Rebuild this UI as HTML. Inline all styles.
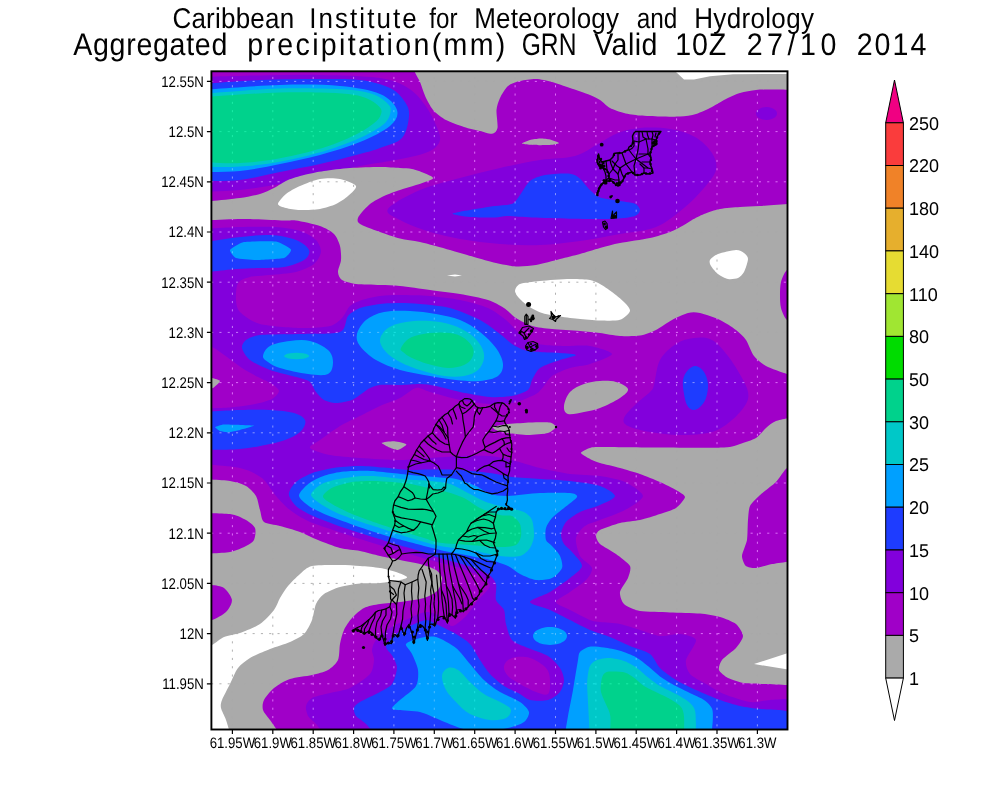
<!DOCTYPE html>
<html><head><meta charset="utf-8"><title>Aggregated precipitation GRN</title>
<style>html,body{margin:0;padding:0;background:#fff}body{width:1000px;height:800px;overflow:hidden}svg{display:block}text{font-family:"Liberation Sans",sans-serif;fill:#000;text-rendering:geometricPrecision}.t1{font-size:26px}.t2{font-size:28.6px}.ax{font-size:13.2px}.lg{font-size:18px}</style></head><body>
<svg width="1000" height="800" viewBox="0 0 1000 800">
<rect width="1000" height="800" fill="#fff"/>
<defs><clipPath id="mc"><rect x="211.4" y="71.3" width="576.1" height="658.2"/></clipPath></defs>
<g clip-path="url(#mc)">
<rect x="205" y="65" width="590" height="670" fill="rgb(160,0,200)"/>
<path d="M200 77C210 76.8 240 75.8 260 75.5C280 75.2 300 74.6 320 75C340 75.4 365.3 75.8 380 78C394.7 80.2 400.5 83.5 408 88C415.5 92.5 420.3 98.8 425 105C429.7 111.2 433.5 119.2 436 125C438.5 130.8 440.7 135.8 440 140C439.3 144.2 436.2 147.3 432 150C427.8 152.7 422 154.2 415 156C408 157.8 399.2 159.3 390 161C380.8 162.7 371.7 163.5 360 166C348.3 168.5 333.3 173 320 176C306.7 179 293.3 181.7 280 184C266.7 186.3 253.3 188.7 240 190C226.7 191.3 206.7 191.7 200 192L200 77Z" fill="rgb(130,0,220)"/>
<path d="M388 209C391.3 204 408 195.2 420 190C432 184.8 446.7 181.7 460 178C473.3 174.3 486.7 171 500 168C513.3 165 527.5 162 540 160C552.5 158 565.3 158.7 575 156C584.7 153.3 590.8 147.8 598 144C605.2 140.2 611 135.7 618 133C625 130.3 631.3 128.7 640 128C648.7 127.3 660.8 127.5 670 129C679.2 130.5 688 133 695 137C702 141 708.5 147.5 712 153C715.5 158.5 717.3 164.2 716 170C714.7 175.8 709.3 181.7 704 188C698.7 194.3 692 201.5 684 208C676 214.5 666.7 222.7 656 227C645.3 231.3 632.7 231.7 620 234C607.3 236.3 593.3 239.2 580 241C566.7 242.8 553.3 244.5 540 245C526.7 245.5 513.3 245 500 244C486.7 243 472.7 241.3 460 239C447.3 236.7 434 233.2 424 230C414 226.8 406 223.5 400 220C394 216.5 384.7 214 388 209Z" fill="rgb(130,0,220)"/>
<path d="M777 113.5C777 114.6 776.5 115.8 775.6 116.8C774.7 117.7 773.3 118.6 771.8 119.1C770.2 119.7 768.2 120 766.5 120C764.8 120 762.8 119.7 761.2 119.1C759.7 118.6 758.3 117.7 757.4 116.8C756.5 115.8 756 114.6 756 113.5C756 112.4 756.5 111.2 757.4 110.2C758.3 109.3 759.7 108.4 761.2 107.9C762.8 107.3 764.8 107 766.5 107C768.2 107 770.2 107.3 771.8 107.9C773.3 108.4 774.7 109.3 775.6 110.2C776.5 111.2 777 112.4 777 113.5Z" fill="rgb(130,0,220)"/>
<path d="M200 229C205.3 228.7 230 227.3 240 227C250 226.7 267 226.5 275 227C283 227.5 294.5 229.3 300 231C305.5 232.7 313.2 237.2 316 240C318.8 242.8 321.3 248.8 321 252C320.7 255.2 317.3 261.3 314 264C310.7 266.7 301.9 270.5 296 272C290.1 273.5 276.1 274.3 270 275C263.9 275.7 254.3 275.9 250 277C245.7 278.1 239.9 279.9 238 283C236.1 286.1 235.7 296.1 236 300C236.3 303.9 236.8 308.8 240 312C243.2 315.2 252 321.9 260 324C268 326.1 290.7 327.7 300 328C309.3 328.3 324.4 327.3 330 326C335.6 324.7 339.3 320.7 342 318C344.7 315.3 347.3 308.4 350 306C352.7 303.6 358 301.3 362 300C366 298.7 374.9 296.7 380 296C385.1 295.3 393.3 295 400 295C406.7 295 422 295.3 430 296C438 296.7 452.3 298.4 460 300C467.7 301.6 481.9 305.3 488 308C494.1 310.7 501.7 316.5 506 320C510.3 323.5 516.8 331.1 520 334C523.2 336.9 526.7 340.5 530 342C533.3 343.5 540.3 344.5 545 345C549.7 345.5 559 345.9 565 346C571 346.1 583.7 344.9 590 346C596.3 347.1 612 351.6 612 354C612 356.4 595.6 362.1 590 364C584.4 365.9 575.1 366.4 570 368C564.9 369.6 555.5 373.6 552 376C548.5 378.4 546.1 383.6 544 386C541.9 388.4 539.7 391.9 536 394C532.3 396.1 522.1 400.7 516 402C509.9 403.3 497.5 404.3 490 404C482.5 403.7 468 401.6 460 400C452 398.4 435.9 393.6 430 392C424.1 390.4 420 387.2 416 388C412 388.8 404.8 395.6 400 398C395.2 400.4 385.3 403.6 380 406C374.7 408.4 365.3 413.3 360 416C354.7 418.7 345.3 422.8 340 426C334.7 429.2 324 437.1 320 440C316 442.9 308.7 446 310 448C311.3 450 323.3 453.7 330 455C336.7 456.3 350.7 457.3 360 458C369.3 458.7 390.7 460 400 460C409.3 460 422 458.5 430 458C438 457.5 452 456.3 460 456C468 455.7 483.1 455.5 490 456C496.9 456.5 505.3 458.4 512 460C518.7 461.6 532.3 466.1 540 468C547.7 469.9 562 472.9 570 474C578 475.1 592.7 474.9 600 476C607.3 477.1 619.3 479.3 625 482C630.7 484.7 643 492.3 643 496C643 499.7 630.7 506.8 625 510C619.3 513.2 605.3 517.9 600 520C594.7 522.1 588.2 523.6 585 526C581.8 528.4 576.7 534 576 538C575.3 542 577.9 552 580 556C582.1 560 591.2 564.8 592 568C592.8 571.2 588.9 576.8 586 580C583.1 583.2 574 589.1 570 592C566 594.9 556 599.6 556 602C556 604.4 565.5 607.6 570 610C574.5 612.4 586 618.4 590 620C594 621.6 596 621.5 600 622C604 622.5 614.7 622.9 620 624C625.3 625.1 634.7 628.4 640 630C645.3 631.6 654.7 635.5 660 636C665.3 636.5 675.2 633.5 680 634C684.8 634.5 695.2 636.5 696 640C696.8 643.5 686.8 655.5 686 660C685.2 664.5 687.3 670.8 690 674C692.7 677.2 701.5 681.3 706 684C710.5 686.7 718.1 691.6 724 694C729.9 696.4 743.9 701.2 750 702C756.1 702.8 763.3 700.5 770 700C776.7 699.5 796 698.3 800 698L800 740L328 740C326.4 737.9 318.7 727.2 316 724C313.3 720.8 309.3 718.4 308 716C306.7 713.6 305.5 708.4 306 706C306.5 703.6 308.8 699.7 312 698C315.2 696.3 324.9 694.3 330 693C335.1 691.7 344.7 690.5 350 688C355.3 685.5 366.8 677.7 370 674C373.2 670.3 373.7 663.2 374 660C374.3 656.8 371.7 652.7 372 650C372.3 647.3 373.6 642.9 376 640C378.4 637.1 385.5 630.9 390 628C394.5 625.1 405.2 620.1 410 618C414.8 615.9 422 612.3 426 612C430 611.7 436.5 614.1 440 616C443.5 617.9 448.5 626 452 626C455.5 626 462.5 619.5 466 616C469.5 612.5 474.8 604 478 600C481.2 596 489.7 589.2 490 586C490.3 582.8 484 578.4 480 576C476 573.6 466.7 570.1 460 568C453.3 565.9 436.9 561.9 430 560C423.1 558.1 414.1 555.3 408 553.5C401.9 551.7 390.4 548.4 384 546.5C377.6 544.6 366.4 541.1 360 539C353.6 536.9 342.9 533.4 336 531C329.1 528.6 314.1 523.8 308 521C301.9 518.2 294.3 513.3 290 510C285.7 506.7 279.7 500.3 276 496C272.3 491.7 266.8 481.7 262 478C257.2 474.3 248.3 469.9 240 468C231.7 466.1 205.3 464.5 200 464L200 408.5C204 408.4 222.7 408.1 230 407.5C237.3 406.9 249.4 405.1 255 404C260.6 402.9 268.8 400.7 272 399C275.2 397.3 279 393 279 391C279 389 274.8 385.9 272 384C269.2 382.1 262 379.1 258 377C254 374.9 246.1 370.7 242 368C237.9 365.3 231 359.8 227 357C223 354.2 215.6 348.5 212 347C208.4 345.5 201.6 346.1 200 346L200 229Z" fill="rgb(130,0,220)"/>
<path d="M504 666C504.7 663 507.7 659.3 512 658C516.3 656.7 524.3 656.3 530 658C535.7 659.7 542.7 664.3 546 668C549.3 671.7 549.7 675.7 550 680C550.3 684.3 550.3 692 548 694C545.7 696 540.7 693.7 536 692C531.3 690.3 524.7 686.7 520 684C515.3 681.3 510.7 679 508 676C505.3 673 503.3 669 504 666Z" fill="rgb(160,0,200)"/>
<path d="M654 385C655.7 379.7 656.3 366.8 660 360C663.7 353.2 670.3 347.7 676 344C681.7 340.3 688 338.7 694 338C700 337.3 706.3 337 712 340C717.7 343 723 349.7 728 356C733 362.3 738.7 372 742 378C745.3 384 747.3 387.7 748 392C748.7 396.3 748.7 399.3 746 404C743.3 408.7 737.7 415.3 732 420C726.3 424.7 720.7 429.5 712 432C703.3 434.5 690.3 435 680 435C669.7 435 658.7 433.5 650 432C641.3 430.5 632.3 428.3 628 426C623.7 423.7 622.7 421.7 624 418C625.3 414.3 631.7 408.3 636 404C640.3 399.7 647 395.2 650 392C653 388.8 652.3 390.3 654 385Z" fill="rgb(130,0,220)"/>
<path d="M200 84C210 83.3 240 80.8 260 80C280 79.2 303.3 79 320 79C336.7 79 348.3 78.5 360 80C371.7 81.5 382.5 84.3 390 88C397.5 91.7 401.8 97.3 405 102C408.2 106.7 409.5 110 409 116C408.5 122 406.8 132.7 402 138C397.2 143.3 387 145.3 380 148C373 150.7 370 151.3 360 154C350 156.7 333.3 161 320 164C306.7 167 293.3 169.3 280 172C266.7 174.7 253.3 178.5 240 180C226.7 181.5 206.7 180.8 200 181L200 84Z" fill="rgb(30,60,255)"/>
<path d="M452.5 213.7C452.5 212.8 464.3 211 470 210C475.7 209 489.3 206.8 495 206C500.7 205.2 509.2 205.2 512.5 203.7C515.8 202.2 517.7 198 520 195C522.3 192 526.7 183.7 530 181C533.3 178.3 539.7 176 545 175C550.3 174 565.3 173.2 570 173.7C574.7 174.2 577.3 176.5 580 178.7C582.7 180.9 587.3 187.5 590 190C592.7 192.5 596 196 600 197.5C604 199 615.3 200.2 620 201C624.7 201.8 632.3 202.5 635 203.7C637.7 204.9 640 208.4 640 210C640 211.6 638.3 214.8 635 216C631.7 217.2 623.7 218.3 615 218.7C606.3 219.1 581.1 218.9 570 218.7C558.9 218.5 540.4 217.9 532 217.5C523.6 217.1 511.9 216 507 216C502.1 216 499.9 217.4 495 217.5C490.1 217.6 475.7 217.5 470 217C464.3 216.5 452.5 214.6 452.5 213.7Z" fill="rgb(30,60,255)"/>
<path d="M200 243C206 242.1 224.3 238.8 236 237.5C247.7 236.2 260 234.6 270 235C280 235.4 289.5 237.5 296 240C302.5 242.5 307.7 246.7 309 250C310.3 253.3 308.2 257.2 304 260C299.8 262.8 291.3 265.7 284 267C276.7 268.3 268 267.7 260 268C252 268.3 246 268.2 236 269C226 269.8 206 272.3 200 273L200 243Z" fill="rgb(30,60,255)"/>
<path d="M246 340C248.4 338.3 252.8 335.8 260 335C267.2 334.2 289.3 334.4 300 334C310.7 333.6 333.6 334.4 340 332C346.4 329.6 345.3 319.2 348 316C350.7 312.8 355.7 309.6 360 308C364.3 306.4 374.7 304.7 380 304C385.3 303.3 394.7 303 400 303C405.3 303 413.3 303.3 420 304C426.7 304.7 442 305.9 450 308C458 310.1 473.3 316.5 480 320C486.7 323.5 495.7 330.8 500 334C504.3 337.2 508.8 341.9 512 344C515.2 346.1 520.3 348.9 524 350C527.7 351.1 535.2 351.6 540 352C544.8 352.4 555.2 352.6 560 353C564.8 353.4 576 354.1 576 355C576 355.9 564.8 358.3 560 360C555.2 361.7 543.7 365.3 540 368C536.3 370.7 533.6 377.1 532 380C530.4 382.9 530.7 387.9 528 390C525.3 392.1 517.1 395.1 512 396C506.9 396.9 496.9 397.5 490 397C483.1 396.5 467.2 393.5 460 392C452.8 390.5 441.3 387.1 436 386C430.7 384.9 424.8 384.1 420 384C415.2 383.9 405.3 384.9 400 385C394.7 385.1 384 384.6 380 385C376 385.4 372.1 387.1 370 388C367.9 388.9 366.4 390.4 364 392C361.6 393.6 355.7 398.5 352 400C348.3 401.5 339.7 403 336 403C332.3 403 326.7 401.5 324 400C321.3 398.5 317.9 394.4 316 392C314.1 389.6 312.1 383.9 310 382C307.9 380.1 305.3 379.6 300 378C294.7 376.4 276.7 372.4 270 370C263.3 367.6 253.7 362.9 250 360C246.3 357.1 242.5 350.7 242 348C241.5 345.3 243.6 341.7 246 340Z" fill="rgb(30,60,255)"/>
<path d="M200 412C206.7 411.7 228.3 410.3 240 410C251.7 409.7 261 409.5 270 410C279 410.5 288.2 411.3 294 413C299.8 414.7 303.7 417.2 305 420C306.3 422.8 304.5 427 302 430C299.5 433 295.3 435.7 290 438C284.7 440.3 278.3 442.2 270 444C261.7 445.8 251.7 448 240 449C228.3 450 206.7 449.8 200 450L200 412Z" fill="rgb(30,60,255)"/>
<path d="M696 366C698.7 366.3 702 369 704 372C706 375 707.7 379.7 708 384C708.3 388.3 707.3 394.2 706 398C704.7 401.8 702.2 405 700 407C697.8 409 695.2 410.3 693 410C690.8 409.7 688.5 407.7 687 405C685.5 402.3 684.7 398.2 684 394C683.3 389.8 682.3 384 683 380C683.7 376 685.8 372.3 688 370C690.2 367.7 693.3 365.7 696 366Z" fill="rgb(30,60,255)"/>
<path d="M288.8 494C288.8 490.8 292.9 484.8 296 482C299.1 479.2 306.7 475.1 312 473.2C317.3 471.3 329.6 468.6 336 467.6C342.4 466.6 353.6 466 360 466C366.4 466 377.6 467.1 384 467.6C390.4 468.1 401.9 469.7 408 470C414.1 470.3 423.1 469.5 430 469.5C436.9 469.5 452 469.5 460 470C468 470.5 483.1 472.1 490 473C496.9 473.9 505.3 476.2 512 477C518.7 477.8 532.3 478.5 540 479C547.7 479.5 562 480.1 570 481C578 481.9 594 484 600 486C606 488 615 493.5 615 496C615 498.5 604.7 502.9 600 505C595.3 507.1 584.5 509.7 580 512C575.5 514.3 568.5 519.1 566 522C563.5 524.9 561.3 531.1 561 534C560.7 536.9 562.5 541.6 564 544C565.5 546.4 569.6 549.1 572 552C574.4 554.9 582.3 562.5 582 566C581.7 569.5 574.3 574.5 570 578C565.7 581.5 555.3 588.8 550 592C544.7 595.2 530 599.6 530 602C530 604.4 544.7 607.6 550 610C555.3 612.4 564.7 617.3 570 620C575.3 622.7 584.7 627.7 590 630C595.3 632.3 604.7 634.9 610 637C615.3 639.1 624.7 643.7 630 646C635.3 648.3 646 651.1 650 654C654 656.9 656.5 664.5 660 668C663.5 671.5 671.2 677.1 676 680C680.8 682.9 690.1 687.3 696 690C701.9 692.7 714.1 697.9 720 700C725.9 702.1 734.7 704.8 740 706C745.3 707.2 754.7 708.5 760 709C765.3 709.5 774.7 709.3 780 710C785.3 710.7 797.3 713.5 800 714L800 740L380 740C378.1 737.9 369.2 727.2 366 724C362.8 720.8 357.6 718.1 356 716C354.4 713.9 353.5 709.9 354 708C354.5 706.1 356.5 704.1 360 702C363.5 699.9 375.7 694.4 380 692C384.3 689.6 389.7 687.2 392 684C394.3 680.8 396.9 671.7 397 668C397.1 664.3 394 658.8 392.5 656C391 653.2 386.1 649.5 386 647C385.9 644.5 389.1 639.7 392 637C394.9 634.3 403.5 629.3 408 627C412.5 624.7 422.3 620.4 426 620C429.7 619.6 432 622.1 436 624C440 625.9 451.5 631.3 456 634C460.5 636.7 466.8 640.5 470 644C473.2 647.5 477.3 656 480 660C482.7 664 486.8 670.5 490 674C493.2 677.5 500 683.3 504 686C508 688.7 516.5 692.1 520 694C523.5 695.9 526.3 699.2 530 700C533.7 700.8 544 701.1 548 700C552 698.9 557.9 694.7 560 692C562.1 689.3 564 683.2 564 680C564 676.8 562.1 671.2 560 668C557.9 664.8 552.3 658.7 548 656C543.7 653.3 532.8 650.1 528 648C523.2 645.9 514.9 643.2 512 640C509.1 636.8 507.1 628 506 624C504.9 620 505.3 613.2 504 610C502.7 606.8 497.1 603.5 496 600C494.9 596.5 497.1 587.5 496 584C494.9 580.5 491.7 576.4 488 574C484.3 571.6 474.4 568.1 468 566C461.6 563.9 445.9 559.8 440 558C434.1 556.2 428.3 553.8 424 552.4C419.7 551 413.3 549.2 408 547.6C402.7 546 390.4 542.3 384 540.4C377.6 538.5 366.4 535.1 360 533C353.6 530.9 342.4 527.3 336 525C329.6 522.7 317.3 518.1 312 515.6C306.7 513.1 299.1 508.9 296 506C292.9 503.1 288.8 497.2 288.8 494Z" fill="rgb(30,60,255)"/>
<path d="M200 90C213.3 89.2 256.7 85.7 280 85C303.3 84.3 323.3 84.5 340 86C356.7 87.5 370.5 90 380 94C389.5 98 395.3 104.7 397 110C398.7 115.3 396.2 120.7 390 126C383.8 131.3 371.7 137.2 360 142C348.3 146.8 333.3 151.3 320 155C306.7 158.7 293.3 161.3 280 164C266.7 166.7 253.3 169.7 240 171C226.7 172.3 206.7 171.8 200 172L200 90Z" fill="rgb(0,160,255)"/>
<path d="M230 250C230.7 248.7 240.2 242.7 244 242C247.8 241.3 272.1 241 276 241.6C279.9 242.2 290.3 248.2 291 249.6C291.7 251 286.9 257.1 284 258C281.1 258.9 260 260 256 260C252 260 238.2 258.8 236 258C233.8 257.2 229.3 251.3 230 250Z" fill="rgb(0,160,255)"/>
<path d="M357 334C358 329.7 361.5 323.7 366 320C370.5 316.3 376.7 313.5 384 312C391.3 310.5 401.3 310.7 410 311C418.7 311.3 427.7 312.5 436 314C444.3 315.5 452.7 317 460 320C467.3 323 474 327.3 480 332C486 336.7 492.2 342.7 496 348C499.8 353.3 502.7 359.3 503 364C503.3 368.7 501.8 373.2 498 376C494.2 378.8 487 380.3 480 381C473 381.7 464.3 380.8 456 380C447.7 379.2 439.3 377.7 430 376C420.7 374.3 409 372.7 400 370C391 367.3 382.7 364 376 360C369.3 356 363.2 350.3 360 346C356.8 341.7 356 338.3 357 334Z" fill="rgb(0,160,255)"/>
<path d="M263 356C263.3 353.3 265.5 348.5 270 346C274.5 343.5 283.3 341.8 290 341C296.7 340.2 303.7 339.5 310 341C316.3 342.5 324.2 346.5 328 350C331.8 353.5 333 358 333 362C333 366 332.2 372 328 374C323.8 376 316 375 308 374C300 373 286.7 370 280 368C273.3 366 270.8 364 268 362C265.2 360 262.7 358.7 263 356Z" fill="rgb(0,160,255)"/>
<path d="M215 427C215.3 426.6 221.4 424.5 224 424.4C226.6 424.3 252.9 425.2 254 425.6C255.1 426 241.7 429.5 240 430C238.3 430.5 229.3 432.3 228 432.4C226.7 432.5 220.9 431.4 220 431C219.1 430.6 214.7 427.4 215 427Z" fill="rgb(0,160,255)"/>
<path d="M567 636C567 637.5 566.1 639.2 564.7 640.5C563.3 641.8 561 643 558.5 643.8C556 644.5 552.8 645 550 645C547.2 645 544 644.5 541.5 643.8C539 643 536.7 641.8 535.3 640.5C533.9 639.2 533 637.5 533 636C533 634.5 533.9 632.8 535.3 631.5C536.7 630.2 539 629 541.5 628.2C544 627.5 547.2 627 550 627C552.8 627 556 627.5 558.5 628.2C561 629 563.3 630.2 564.7 631.5C566.1 632.8 567 634.5 567 636Z" fill="rgb(0,160,255)"/>
<path d="M299 495.6C299 492.6 305.4 486.3 308.8 483.6C312.2 480.9 320.1 477.2 324.8 475.6C329.5 474 338.2 472.2 344 471.6C349.8 471 361.6 470.6 368 470.8C374.4 471 385.6 472.4 392 473C398.4 473.6 409.6 475 416 475.6C422.4 476.2 434.7 477 440 477.5C445.3 478 451.2 477.9 456 479C460.8 480.1 471.5 484 476 486C480.5 488 485.7 492.7 490 494C494.3 495.3 501.3 496.1 508 496C514.7 495.9 531.7 493.4 540 493C548.3 492.6 565.1 492.5 570 493C574.9 493.5 577.8 495 577 497C576.2 499 567.3 505.2 564 508C560.7 510.8 554.4 515.3 552 518C549.6 520.7 546.8 525.1 546 528C545.2 530.9 545.2 537.6 546 540C546.8 542.4 550.1 543.9 552 546C553.9 548.1 558.7 553.1 560 556C561.3 558.9 563.1 565.1 562 568C560.9 570.9 555.5 576.4 552 578C548.5 579.6 540.3 580.5 536 580C531.7 579.5 523.7 575.9 520 574C516.3 572.1 512 567.9 508 566C504 564.1 496.4 561.6 490 560C483.6 558.4 466.7 555.3 460 554C453.3 552.7 444.8 551.1 440 550C435.2 548.9 429.3 547.4 424 546C418.7 544.6 406.4 541.4 400 539.6C393.6 537.8 382.4 534.4 376 532.4C369.6 530.4 358.4 526.6 352 524.4C345.6 522.2 333.8 518.1 328 515.6C322.2 513.1 312.7 508.7 308.8 506C304.9 503.3 299 498.6 299 495.6Z" fill="rgb(0,160,255)"/>
<path d="M406 644C407.1 641.9 416 638.9 420 638C424 637.1 431.2 635.7 436 637C440.8 638.3 451.5 644.4 456 648C460.5 651.6 466.3 659.7 470 664C473.7 668.3 480 676.3 484 680C488 683.7 495.2 689.1 500 692C504.8 694.9 516.1 699.3 520 702C523.9 704.7 528.5 709.3 529 712C529.5 714.7 526.8 719.9 524 722C521.2 724.1 513.9 726.7 508 728C502.1 729.3 486.4 732 480 732C473.6 732 465.3 729.6 460 728C454.7 726.4 445.3 722.1 440 720C434.7 717.9 425.6 713.3 420 712C414.4 710.7 401.7 710.5 398 710C394.3 709.5 391.7 709.3 392 708C392.3 706.7 396.8 702.9 400 700C403.2 697.1 413.6 690 416 686C418.4 682 418.5 674.3 418 670C417.5 665.7 413.6 657.5 412 654C410.4 650.5 404.9 646.1 406 644Z" fill="rgb(0,160,255)"/>
<path d="M578 660C578.9 654.9 578.5 653.8 580 652C581.5 650.2 586.4 647.4 589.6 646.8C592.8 646.2 599.9 647.1 604 647.6C608.1 648.1 615.7 649.5 620 650.8C624.3 652.1 632.2 655.1 636 657.2C639.8 659.3 645.6 664.2 648.8 666.8C652 669.4 656.4 673.8 660 676.4C663.6 679 671.7 683.7 676 686C680.3 688.3 688.2 692.1 692 694C695.8 695.9 702.1 698.5 704.8 700.4C707.5 702.3 710.9 705.8 712 708.4C713.1 711 712.9 715.4 712.8 719.6C712.7 723.8 711.2 737.3 711 740L564 740C564.5 736.8 566.8 722.7 568 716C569.2 709.3 571.7 697.5 573 690C574.3 682.5 577.1 665.1 578 660Z" fill="rgb(0,160,255)"/>
<path d="M200 94C206.7 93.5 226.7 91.9 240 91C253.3 90.1 266.7 88.9 280 88.5C293.3 88.1 308 88.2 320 88.5C332 88.8 343 89 352 90C361 91 368 92.2 374 94.5C380 96.8 385.2 101.1 388 104C390.8 106.9 391.2 108.7 390.5 112C389.8 115.3 388.8 119.8 384 124C379.2 128.2 370.8 132.8 362 137C353.2 141.2 341.3 145.6 331 149C320.7 152.4 310.2 155.1 300 157.5C289.8 159.9 280 162 270 163.5C260 165 248.3 165.9 240 166.5C231.7 167.1 226.7 167.1 220 167C213.3 166.9 203.3 166.2 200 166L200 94Z" fill="rgb(0,200,200)"/>
<path d="M380 340C380.3 336 383.7 331 388 328C392.3 325 399 323.2 406 322C413 320.8 422.3 320.5 430 321C437.7 321.5 445.3 322.8 452 325C458.7 327.2 465.2 330.5 470 334C474.8 337.5 478.7 342 481 346C483.3 350 484.5 354 484 358C483.5 362 481.3 367 478 370C474.7 373 469.7 375 464 376C458.3 377 451.3 377 444 376C436.7 375 427.3 372.3 420 370C412.7 367.7 405.7 365 400 362C394.3 359 389.3 355.7 386 352C382.7 348.3 379.7 344 380 340Z" fill="rgb(0,200,200)"/>
<path d="M309.1 356C309.1 356.5 308.5 357.1 307.4 357.6C306.4 358.1 304.7 358.5 302.9 358.8C301 359 298.7 359.2 296.6 359.2C294.5 359.2 292.2 359 290.4 358.8C288.5 358.5 286.8 358.1 285.8 357.6C284.7 357.1 284.1 356.5 284.1 356C284.1 355.5 284.7 354.9 285.8 354.4C286.8 353.9 288.5 353.5 290.4 353.2C292.2 353 294.5 352.8 296.6 352.8C298.7 352.8 301 353 302.9 353.2C304.7 353.5 306.4 353.9 307.4 354.4C308.5 354.9 309.1 355.5 309.1 356Z" fill="rgb(0,200,200)"/>
<path d="M311 494.8C311 492.3 316.7 487 320 485C323.3 483 331.1 480.7 336 479.6C340.9 478.5 351.1 476.8 356.8 476.4C362.5 476 372.2 476 379 476.4C385.8 476.8 401.2 479 408 479.6C414.8 480.2 424.4 480.4 430 481C435.6 481.6 444.7 482.3 450 484C455.3 485.7 465.2 491.6 470 494C474.8 496.4 480.9 500.1 486 502C491.1 503.9 502.9 506.7 508 508C513.1 509.3 520.8 510.4 524 512C527.2 513.6 530.7 516.8 532 520C533.3 523.2 534.3 532.3 534 536C533.7 539.7 531.9 545.3 530 548C528.1 550.7 524 554.9 520 556C516 557.1 506.7 556.8 500 556C493.3 555.2 478 551.3 470 550C462 548.7 446.1 547.1 440 546C433.9 544.9 429.3 543.5 424 542C418.7 540.5 406.4 536.8 400 534.8C393.6 532.8 381.8 528.7 376 526.8C370.2 524.9 362.1 522.3 356.8 520.4C351.5 518.5 340.9 514.6 336 512.4C331.1 510.2 323.3 505.9 320 503.6C316.7 501.3 311 497.3 311 494.8Z" fill="rgb(0,200,200)"/>
<path d="M442 676C442.3 672.3 445.3 669 448 668C450.7 667 454.3 667.7 458 670C461.7 672.3 465.7 678 470 682C474.3 686 478.3 690.3 484 694C489.7 697.7 499.5 701.3 504 704C508.5 706.7 510.7 707.7 511 710C511.3 712.3 509.5 716.3 506 718C502.5 719.7 496 720.7 490 720C484 719.3 475.7 717 470 714C464.3 711 460 706 456 702C452 698 448.3 694.3 446 690C443.7 685.7 441.7 679.7 442 676Z" fill="rgb(0,200,200)"/>
<path d="M589.6 666.8C590.8 663.8 593.4 661.6 596 660.4C598.6 659.2 605 657.9 608.8 658C612.6 658.1 621 659.8 624.8 661.2C628.6 662.6 634.4 666.2 637.6 668.4C640.8 670.6 645.8 675.7 648.8 678C651.8 680.3 656.4 683.9 660 686C663.6 688.1 672.2 691.9 676 694C679.8 696.1 686.2 699.7 688.8 702C691.4 704.3 694.2 706.5 695.2 711.6C696.2 716.7 695.9 736.2 696 740L590 740C589.7 734.9 588.4 709.6 588 702C587.6 694.4 587 687.5 587.2 682.8C587.4 678.1 588.4 669.8 589.6 666.8Z" fill="rgb(0,200,200)"/>
<path d="M200 97.4C206.7 96.9 226.7 95.4 240 94.6C253.3 93.8 266.7 92.8 280 92.4C293.3 92 308.7 92.1 320 92.4C331.3 92.7 340.3 93.1 348 94C355.7 94.9 361 96.1 366 98C371 99.9 375.4 103.2 378 105.5C380.6 107.8 381.8 109.3 381.5 112C381.2 114.7 379.9 117.9 376 121.5C372.1 125.1 365.7 129.5 358 133.5C350.3 137.5 339.7 142.1 330 145.5C320.3 148.9 310 151.6 300 154C290 156.4 280 158.5 270 160C260 161.5 248.3 162.5 240 163C231.7 163.5 226.7 163.3 220 163C213.3 162.7 203.3 161.3 200 161L200 97.4Z" fill="rgb(0,210,140)"/>
<path d="M401 348C402.2 345.7 405.2 340.5 410 338C414.8 335.5 423.3 333.8 430 333C436.7 332.2 444.3 332.2 450 333C455.7 333.8 460.2 335.5 464 338C467.8 340.5 471.7 344.7 473 348C474.3 351.3 473.5 355.2 472 358C470.5 360.8 468 363.3 464 365C460 366.7 454 368.2 448 368C442 367.8 434 365.7 428 364C422 362.3 416.2 360 412 358C407.8 356 404.8 353.7 403 352C401.2 350.3 399.8 350.3 401 348Z" fill="rgb(0,210,140)"/>
<path d="M323 496.4C323 494.2 328.9 489.5 332.8 487.6C336.7 485.7 346.2 482.9 352 482C357.8 481.1 368.5 480.8 376 481C383.5 481.2 401.6 482.8 408 483.6C414.4 484.4 419.2 486 424 487C428.8 488 438.7 489.5 444 491C449.3 492.5 459.2 495.7 464 498C468.8 500.3 475.2 505.7 480 508C484.8 510.3 495.7 513.9 500 515C504.3 516.1 509.3 514.8 512 516C514.7 517.2 518.8 521.3 520 524C521.2 526.7 521.5 533.2 521 536C520.5 538.8 518.8 543.5 516 545C513.2 546.5 506.1 547 500 547C493.9 547 478 545.6 470 545C462 544.4 446.1 543.7 440 542.8C433.9 541.9 429.3 539.6 424 538C418.7 536.4 406.4 532.8 400 530.8C393.6 528.8 382.4 525 376 522.8C369.6 520.6 357.8 516.5 352 514C346.2 511.5 336.7 506.7 332.8 504.4C328.9 502.1 323 498.6 323 496.4Z" fill="rgb(0,210,140)"/>
<path d="M602.4 676.4C603.5 673.8 605.8 672.1 608.8 671.6C611.8 671.1 621.4 671.5 624.8 672.4C628.2 673.3 631.8 676.2 634.4 678C637 679.8 641 684.1 644 686C647 687.9 653.4 690.7 656.8 692.4C660.2 694.1 666.4 696.9 669.6 698.8C672.8 700.7 678.9 704.5 680.8 706.8C682.7 709.1 683.6 712 684 716.4C684.4 720.8 684 736.9 684 740L609.6 740C609.7 736.9 610.9 721.3 610.4 716.4C609.9 711.5 606.9 707 605.6 703.6C604.3 700.2 601.2 694.4 600.8 690.8C600.4 687.2 601.3 679 602.4 676.4Z" fill="rgb(0,210,140)"/>
<path d="M414 60C414 61.3 413.2 67.1 414 70C414.8 72.9 418.4 78.3 420 82C421.6 85.7 424.1 94.1 426 98C427.9 101.9 431.3 108.1 434 111C436.7 113.9 442 117.9 446 120C450 122.1 459.5 125.5 464 127C468.5 128.5 476.3 130.1 480 131C483.7 131.9 489.7 134.2 492 133.8C494.3 133.4 496.9 131.2 497.5 128C498.1 124.8 496.2 114 496.5 110C496.8 106 498.5 101.2 500 98C501.5 94.8 505.3 88.3 508 86C510.7 83.7 516.3 81.9 520 81C523.7 80.1 531.7 78.9 536 79C540.3 79.1 547.5 80.8 552 82C556.5 83.2 564.9 86.3 570 88C575.1 89.7 586 93.4 590 95C594 96.6 597.3 98.3 600 100C602.7 101.7 606.8 106.3 610 108C613.2 109.7 620 112 624 113C628 114 635.2 115.1 640 115.6C644.8 116.1 654.7 116.5 660 116.6C665.3 116.7 675.2 116.9 680 116.6C684.8 116.3 691.7 115.3 696 114C700.3 112.7 708.3 108.9 712 107C715.7 105.1 720.3 101.9 724 100C727.7 98.1 735.7 94.3 740 93C744.3 91.7 751.7 90.5 756 90C760.3 89.5 766.1 89.6 772 89.6C777.9 89.6 796.3 89.9 800 90L800 60L414 60Z" fill="rgb(170,170,170)"/>
<path d="M522 143.5C522 143 528.2 140.5 530 140C531.8 139.5 538 138.6 540 138.5C542 138.4 548.1 139.1 550 139.5C551.9 139.9 558.8 142.5 559 143C559.2 143.5 553.9 144.6 552 144.8C550.1 145 542.2 145.2 540 145.2C537.8 145.2 531.8 145 530 144.8C528.2 144.6 522 144 522 143.5Z" fill="rgb(170,170,170)"/>
<path d="M200 201C201.6 201 206.7 201.4 212 201C217.3 200.6 233.6 198.9 240 198C246.4 197.1 255.5 195.3 260 194C264.5 192.7 270.3 189.9 274 188C277.7 186.1 284 181.7 288 180C292 178.3 299.2 176.2 304 175C308.8 173.8 317.9 171.9 324 171C330.1 170.1 342.5 168.5 350 168C357.5 167.5 373.3 167 380 167C386.7 167 395.7 167.7 400 168C404.3 168.3 408.8 168.3 412 169C415.2 169.7 421.2 171.7 424 173C426.8 174.3 434.1 176.8 433 178.4C431.9 180 420.4 183.5 416 185C411.6 186.5 404.3 188.5 400 190C395.7 191.5 388 194.1 384 196C380 197.9 373.3 201.3 370 204C366.7 206.7 360.6 213.6 359 216C357.4 218.4 357.3 220.7 358 222C358.7 223.3 361.1 224.7 364 226C366.9 227.3 375.2 230.3 380 232C384.8 233.7 394.7 237.2 400 238.5C405.3 239.8 413.3 240.5 420 242C426.7 243.5 442.8 248 450 250C457.2 252 467.9 255.3 474 257C480.1 258.7 490.4 261.7 496 263C501.6 264.3 510.7 266.1 516 266.4C521.3 266.7 530.1 266 536 265C541.9 264 554.1 260.5 560 259C565.9 257.5 574.7 255.5 580 254C585.3 252.5 594.7 249.5 600 248C605.3 246.5 613.3 244.3 620 243C626.7 241.7 643.3 239.5 650 238C656.7 236.5 665.5 233.7 670 232C674.5 230.3 681.1 226.6 684 225C686.9 223.4 689.3 221.5 692 220C694.7 218.5 700.3 215.5 704 214C707.7 212.5 715.2 209.9 720 209C724.8 208.1 734.7 207.4 740 207C745.3 206.6 752 206.5 760 206C768 205.5 794.7 203.4 800 203L800 378C798.3 377.5 791.5 375.6 787 374C782.5 372.4 770.4 368.4 766 366C761.6 363.6 756.7 359.5 754 356C751.3 352.5 748.4 343.5 746 340C743.6 336.5 739.5 332.7 736 330C732.5 327.3 724.8 322.3 720 320C715.2 317.7 704.3 313.9 700 313C695.7 312.1 691.7 312.1 688 313C684.3 313.9 676.3 317.7 672 320C667.7 322.3 660.3 327.9 656 330C651.7 332.1 644.8 334.8 640 335.6C635.2 336.4 625.3 336.3 620 336C614.7 335.7 605.3 333.7 600 333C594.7 332.3 586.4 331.5 580 331C573.6 330.5 558.4 329.7 552 329C545.6 328.3 536.8 327.5 532 326C527.2 324.5 519.7 320.4 516 318C512.3 315.6 507.7 310.4 504 308C500.3 305.6 493.9 301.9 488 300C482.1 298.1 467.7 295.3 460 294C452.3 292.7 438 291.1 430 290C422 288.9 406.7 286.7 400 286C393.3 285.3 385.9 285.3 380 285C374.1 284.7 361.1 284.7 356 284C350.9 283.3 344.4 281.6 342 280C339.6 278.4 338.1 274.7 338 272C337.9 269.3 340.7 263.5 341 260C341.3 256.5 340.9 249.5 340 246C339.1 242.5 336.7 236.7 334 234C331.3 231.3 325.1 227.8 320 226C314.9 224.2 300.8 221.2 296 220.5C291.2 219.8 290.8 220.7 284 220.5C277.2 220.3 256.2 219 245 219C233.8 219 206 220.3 200 220.5L200 201Z" fill="rgb(170,170,170)"/>
<path d="M800 268C798.3 268.3 789.5 268.1 787 270C784.5 271.9 781.9 278.7 781 282C780.1 285.3 780 291.5 780 295C780 298.5 780.1 304.7 781 308C781.9 311.3 784.5 318.1 787 320C789.5 321.9 798.3 321.7 800 322L800 268Z" fill="rgb(160,0,200)"/>
<path d="M200 376C201.2 376.2 210 377.5 212 378C214 378.5 219.9 380 220 381C220.1 382 215 386.9 213 388C211 389.1 201.3 391.6 200 392L200 376Z" fill="rgb(170,170,170)"/>
<path d="M200 479C204 479.3 223.9 480.1 230 481C236.1 481.9 242.5 484 246 486C249.5 488 254.1 492.8 256 496C257.9 499.2 258.9 506.5 260 510C261.1 513.5 261.3 519.9 264 522C266.7 524.1 275.2 524.7 280 526C284.8 527.3 294.9 530.1 300 532C305.1 533.9 312.7 537.9 318 540C323.3 542.1 334.4 546.5 340 548C345.6 549.5 354.7 549.9 360 551C365.3 552.1 374.7 554.8 380 556C385.3 557.2 394.7 558.9 400 560C405.3 561.1 415.2 562.7 420 564C424.8 565.3 433.1 568.1 436 570C438.9 571.9 441.7 575.3 442 578C442.3 580.7 440.4 587.3 438 590C435.6 592.7 429.1 596.4 424 598C418.9 599.6 405.9 601.2 400 602C394.1 602.8 384.8 603.2 380 604C375.2 604.8 367.7 606.1 364 608C360.3 609.9 354.7 615.1 352 618C349.3 620.9 345.6 626.5 344 630C342.4 633.5 340.8 640 340 644C339.2 648 339.6 656.5 338 660C336.4 663.5 331.5 668 328 670C324.5 672 317.1 673.8 312 675C306.9 676.2 295.1 677.3 290 679C284.9 680.7 277.5 685.2 274 688C270.5 690.8 265.5 697.1 264 700C262.5 702.9 262.2 707.3 263 710C263.8 712.7 267.2 716 270 720C272.8 724 282.1 737.3 284 740L200 740L200 479Z" fill="rgb(170,170,170)"/>
<path d="M200 513C204 513.1 223.9 513.1 230 514C236.1 514.9 242.7 518.1 246 520C249.3 521.9 253.9 525.3 255 528C256.1 530.7 255.2 537.6 254 540C252.8 542.4 249.2 544.4 246 546C242.8 547.6 236.1 550.9 230 552C223.9 553.1 204 553.7 200 554L200 513Z" fill="rgb(160,0,200)"/>
<path d="M200 585C201.6 585 208.8 584.6 212 585C215.2 585.4 221.3 586 224 588C226.7 590 231.7 596.8 232 600C232.3 603.2 228.7 609.3 226 612C223.3 614.7 215.5 618.9 212 620C208.5 621.1 201.6 620 200 620L200 585Z" fill="rgb(160,0,200)"/>
<path d="M564 406C564.3 402.3 566.7 395.7 570 392C573.3 388.3 579 385.8 584 384C589 382.2 594.7 381.3 600 381C605.3 380.7 611.3 380.7 616 382C620.7 383.3 627.3 386.3 628 389C628.7 391.7 624.7 394.8 620 398C615.3 401.2 606 405.7 600 408C594 410.3 589.3 411 584 412C578.7 413 571.3 415 568 414C564.7 413 563.7 409.7 564 406Z" fill="rgb(170,170,170)"/>
<path d="M493 427C493.8 426.4 500.3 424.9 504 424.4C507.7 423.9 525.4 422.6 530 422.4C534.6 422.2 547.4 421.9 550 422.4C552.6 422.9 556.2 425.9 556 427C555.8 428.1 550.8 432.2 548 433C545.2 433.8 532 435 528 435C524 435 511.2 433.5 508 433C504.8 432.5 497.5 430.6 496 430C494.5 429.4 492.2 427.6 493 427Z" fill="rgb(170,170,170)"/>
<path d="M381.6 442.8C382.1 442.2 391.9 441 394.4 441.2C396.9 441.4 406.1 443.5 406.4 444.4C406.7 445.3 399.3 449.7 397.6 450C395.9 450.3 391.2 448.3 389.6 447.6C388 446.9 381.1 443.4 381.6 442.8Z" fill="rgb(170,170,170)"/>
<path d="M581 453C580.8 451.6 587.8 448.7 590 448C592.2 447.3 591.8 447 600 447C608.2 447 645.5 447.5 660 447.6C674.5 447.7 714.7 448 724 447.6C733.3 447.2 736.3 445.1 740 444C743.7 442.9 753 439.9 756 438C759 436.1 763.7 430 766 428C768.3 426 772 422.4 776 421C780 419.6 797.2 416.6 800 416L800 466C798.5 466.2 789.8 466.1 787 468C784.2 469.9 779.1 478.9 776 482C772.9 485.1 763 492.2 760 495C757 497.8 751.4 503.1 750 506C748.6 508.9 748.4 516 748 520C747.6 524 747.7 535.8 747 540C746.3 544.2 742.1 553 742 556C741.9 559 744.4 564.6 746 566C747.6 567.4 753 568.2 756 568C759 567.8 766.9 564.9 772 564C777.1 563.1 796.7 560.5 800 560L800 686C798.5 685.9 791.2 685.2 787 685C782.8 684.8 769 684.2 764 684C759 683.8 748.2 683.7 744 683C739.8 682.3 730.9 679.5 728 678C725.1 676.5 719.7 672.1 719 670C718.3 667.9 720 662.6 722 660C724 657.4 733.5 650.8 736 648C738.5 645.2 743 638.8 743 636C743 633.2 738.7 626.2 736 624C733.3 621.8 724.2 618.2 720 617C715.8 615.8 705.8 614.1 700 613.6C694.2 613.1 677 612.7 670 612.4C663 612.1 645.4 612 640 611C634.6 610 626.3 606.2 624 604C621.7 601.8 619.5 595 620 592C620.5 589 626.8 581 628 578C629.2 575 631.4 568.8 630 566C628.6 563.2 619.5 556.6 616 554C612.5 551.4 602.3 546.1 600 544C597.7 541.9 596 537.6 596 536C596 534.4 597.2 531.5 600 530C602.8 528.5 615.3 524.2 620 523C624.7 521.8 635.3 521 640 520C644.7 519 655.8 515.4 660 514C664.2 512.6 673.1 510 676 508C678.9 506 685 499.1 685 497C685 494.9 678.9 491.8 676 490C673.1 488.2 664.2 483.9 660 482C655.8 480.1 644.7 475.6 640 474C635.3 472.4 624.7 469.3 620 468C615.3 466.7 603.3 463.9 600 463C596.7 462.1 594.2 461.2 592 460C589.8 458.8 581.2 454.4 581 453Z" fill="rgb(170,170,170)"/>
<path d="M676 60L676 72L684 79.6L694 79.6L710 76.2L733 74.2L800 74L800 60Z" fill="rgb(255,255,255)"/>
<path d="M278 204C278 202.1 283.1 196.4 286 194C288.9 191.6 295.5 188 300 186C304.5 184 314.7 179.9 320 179C325.3 178.1 335.2 178.1 340 179C344.8 179.9 354.9 183.7 356 186C357.1 188.3 350.7 193.6 348 196C345.3 198.4 339.7 202.3 336 204C332.3 205.7 324.8 208.2 320 209C315.2 209.8 304.5 210.1 300 210C295.5 209.9 288.9 208.8 286 208C283.1 207.2 278 205.9 278 204Z" fill="rgb(255,255,255)"/>
<path d="M515 291C515.2 289.2 516.7 285.3 520 284C523.3 282.7 533.3 281.7 540 281C546.7 280.3 563.3 279.1 570 279C576.7 278.9 586 279.3 590 280C594 280.7 597.1 282.4 600 284C602.9 285.6 608.8 289.6 612 292C615.2 294.4 621.6 299.5 624 302C626.4 304.5 630.5 308.6 630 311C629.5 313.4 624 318.5 620 319.8C616 321.1 605.6 320.6 600 320.5C594.4 320.4 583.7 319.4 578 318.8C572.3 318.2 562 316.9 557.5 316.2C553 315.5 547.3 314.6 544.4 313.8C541.5 313 537.9 311.3 535.6 310.2C533.3 309.1 529.3 306.9 527 305.2C524.7 303.5 520.1 299.4 518.5 297.5C516.9 295.6 514.8 292.8 515 291Z" fill="rgb(255,255,255)"/>
<path d="M710 260C710.9 258.4 714.5 255.3 718 254C721.5 252.7 732.5 250.1 736 250C739.5 249.9 742.4 251.8 744 253C745.6 254.2 748 256.5 748 259C748 261.5 745.3 269.5 744 272C742.7 274.5 740.1 277.1 738 278C735.9 278.9 730.7 279.5 728 279C725.3 278.5 720.3 275.7 718 274C715.7 272.3 712.1 267.9 711 266C709.9 264.1 709.1 261.6 710 260Z" fill="rgb(255,255,255)"/>
<path d="M447 275.6L455 274.6L462 275.6L455 276.6Z" fill="rgb(255,255,255)"/>
<path d="M754 664L800 649L800 671.5Z" fill="rgb(255,255,255)"/>
<path d="M200 648C201.6 647.6 208.8 646.5 212 645C215.2 643.5 220.3 638.6 224 637C227.7 635.4 235.2 634.7 240 633C244.8 631.3 255.5 627.1 260 624C264.5 620.9 271.3 613.5 274 610C276.7 606.5 278.1 601.2 280 598C281.9 594.8 285.3 589.2 288 586C290.7 582.8 296.8 576.7 300 574C303.2 571.3 306.7 567.2 312 566C317.3 564.8 333.6 565 340 565C346.4 565 354.7 565.6 360 566C365.3 566.4 375.2 567.2 380 568C384.8 568.8 392.4 570.8 396 572C399.6 573.2 406.5 575.9 407 577C407.5 578.1 403.6 579.2 400 580C396.4 580.8 385.3 582.5 380 583C374.7 583.5 365.3 583 360 583.5C354.7 584 344.8 585.6 340 587C335.2 588.4 327.2 591.7 324 594C320.8 596.3 317.6 600.5 316 604C314.4 607.5 313.6 616 312 620C310.4 624 306.9 631.1 304 634C301.1 636.9 294.5 640 290 642C285.5 644 275.3 646.9 270 649C264.7 651.1 254.3 655.5 250 658C245.7 660.5 240.7 664.5 238 668C235.3 671.5 232.1 679.7 230 684C227.9 688.3 223.2 696.8 222 700C220.8 703.2 220.5 705.3 221 708C221.5 710.7 224.5 715.7 226 720C227.5 724.3 231.2 737.3 232 740L200 740L200 648Z" fill="rgb(255,255,255)"/>
<path d="M232.4 68.6 V729.5M272.8 68.6 V729.5M313.2 68.6 V729.5M353.6 68.6 V729.5M393.9 68.6 V729.5M434.3 68.6 V729.5M474.7 68.6 V729.5M515.1 68.6 V729.5M555.5 68.6 V729.5M595.9 68.6 V729.5M636.2 68.6 V729.5M676.6 68.6 V729.5M717 68.6 V729.5M757.4 68.6 V729.5M211.1 81.4 H787.5M211.1 131.6 H787.5M211.1 181.8 H787.5M211.1 232 H787.5M211.1 282.2 H787.5M211.1 332.4 H787.5M211.1 382.6 H787.5M211.1 432.8 H787.5M211.1 483 H787.5M211.1 533.2 H787.5M211.1 583.4 H787.5M211.1 633.6 H787.5M211.1 683.8 H787.5" stroke="rgb(168,168,168)" stroke-width="0.9" stroke-dasharray="2.1 6.2" fill="none" style="mix-blend-mode:luminosity"/>
<g fill="none" stroke="#000" stroke-width="1.2" stroke-linejoin="round" stroke-linecap="round">
<path d="M408.4 467L411 460L414.4 454.4L416.5 450L419.2 446L421 443L424 440L428 436L432.4 432.8L434 428L436 424.4L439 420L442 417.2L445 414.5L448 413L450 410.5L452.8 408.8L455.5 406L458.8 404L460 401.5L462.4 400.4L464.5 398.6L467.2 398.6L470 399L472 400.4L473 402.5L474.4 404L476 406.5L478 407.6L480.5 408.2L482.8 407.6L486 407.4L490 406.4L492.5 404.5L494.8 403.4L498 402.6L502 402.8L504 403.6L505.6 405.2L507.6 407L509.2 410L508.4 413L506.8 416L505.2 418.4L504.4 420.8L505.2 423.4L506.8 425.6L508.4 428L509.2 430.4L509.6 435L510.4 440L511.8 444L511.6 448.4L511.8 452.5L511 456.8L510.8 461.5L509.8 466.4L509.6 471L508 476L508.2 481L507.4 485.6L507.8 490L507.2 495L507.4 500L506 505L508.5 506.5L511.6 509.2L506 509.6L502 508.6L498.5 509L496.2 512L495.5 517L493.4 523.2L494.4 528L496.2 533L495.4 538L493.4 542.8L495.5 548L497.6 554L496 558L494.5 562L492 568L490.5 572.5L487.8 576.4L486.6 580L486.4 583.4L484.2 586L480.8 590.4L479.4 594L474.6 600.4L471 603.5L468.2 606.8L463.4 611.6L460 609.5L457 610L455.4 618L452 615L449 613.2L447.4 622.8L444.2 616.4L441 616.5L437.8 618L434.6 626L432 624L429.8 624.4L427.4 640.4L425 629.2L422.5 626L420.2 624.4L417 630.8L413.8 643.6L412.2 634L409 624.4L406.5 628L404.2 635.6L401 626L397.8 637.2L395 634.5L393 634L391.4 643.6L388 642.5L385 645.2L381.8 634L379.4 640.4L375.4 637.2L372 633L369 630.8L364.2 634L360.5 632L357.8 629.2L352.2 630.8L356.5 628L361 626L365 623L369 619.6L372.5 616L375.4 612.4L378.5 610.5L381.8 610L386 608.8L389.8 606.8L391.4 600.4L390.6 598.8L390.4 592L389.8 586L389.8 582L388.4 576L388.4 569.4L391 565L392.6 561L390.4 558L388.4 555.4L386 551.5L384.2 548.4L386.5 545.5L388.4 542.8L390.5 536.5L392.6 530.2L394.6 525L395.4 520.4L394 516L392.6 512L393.4 506L394.8 501L398.2 496.6L400.5 491.6L403.8 486.8L406 480.8L407.6 474L408.4 467" stroke-width="1.25"/>
<path d="M456.4 456.8L459 450L462.4 442.4L465.4 437L464.4 428L463 420L462.4 414L460 408L458.8 404"/>
<path d="M462.4 414L466 412L470 408.5L474.4 404"/>
<path d="M465.4 437L469.5 431.5L473.2 426.8L474 421L474.4 416L476 411.5L478 407.6"/>
<path d="M456.4 456.8L453 454.5L450.4 452L449.2 444.8L448 437.6L444 432L439.6 426.8L436 424.4"/>
<path d="M408.4 467L415.6 464L423 462.5L430 461L434 463L438.4 466.4L440.5 471L442 474.8L447 475L451.6 474.8L454 471L456.4 467.6L456.4 456.8"/>
<path d="M456.4 456.8L461.5 457.6L467.2 457.4L472 455.5L476.8 453.2L480.5 451.2L484 449.6L485.2 447.2L483.6 443.5L482.8 440L485.5 435.5L488.8 431.6L492.5 426L496 420.8L497.6 417L498.4 413.6L495 410.5L491.2 407.6"/>
<path d="M485.2 447.2L490 444.6L494.8 442.4L498.5 440.4L502 438.8L506 437.8L510.4 437.6"/>
<path d="M484 449.6L488 451.6L492.4 453.2L496 451L499.6 448.4L502 446.5L504.4 444.8L508 443.2L511.6 442.4"/>
<path d="M499.6 448.4L501.2 451.5L503.2 454.4L507 455.8L511 456.8"/>
<path d="M476.8 471.2L480.5 468.6L484 466.4L488.8 465.2L493.6 461.6L498 460.6L502 460.4L506 462L510.4 464"/>
<path d="M456.4 467.6L462.4 468.8L467 471L472 473.6L476.8 474.4L481.6 474.8L485 476.4L488.8 478.4L492.5 480.2L496 482L501.5 484L506.8 485.6"/>
<path d="M488.8 465.2L492.5 467L496 468.8L499.6 471L503.2 473.6L508 476"/>
<path d="M451.6 474.8L449 476.8L446.8 478.4L446 483L445.6 488L443 491L438 493L432.8 494L429.5 497L426.2 499.4"/>
<path d="M456.4 471.2L458.8 473.8L461.2 476L463 479.5L464.8 483.2L466.8 484L470 487L474 489.5L478 489.6L485 492L492 493.8L498 492.8L503.2 491L507.4 488"/>
<path d="M408.4 471.2L413 472.6L418 473.6L421.6 474.6L425.2 476L427.2 479L428.8 482L429.4 488L429 484"/>
<path d="M432.4 432.8L436 437L440 441L445 444L449.2 444.8"/>
<path d="M424 440L428 444L432 447L437 450L442 452L450.4 452"/>
<path d="M428 436L432 440.5L436 444"/>
<path d="M419.2 446L423 450L426 454L429 458L430 461"/>
<path d="M414.4 454.4L419 457L424 459.5L430 461"/>
<path d="M416.5 450L420.5 453.4L424 456.5"/>
<path d="M411 460L416 461L421 462.8"/>
<path d="M436 424.4L440 429L443.5 434L446 439"/>
<path d="M442 417.2L445 422L447.6 427.5L448 437.6"/>
<path d="M439 420L442 425L444 432"/>
<path d="M448 413L451 418L452.5 424"/>
<path d="M452.8 408.8L455 414L456.5 419"/>
<path d="M462.4 400.4L464 404L467 406L470 403.5L472 400.4"/>
<path d="M458.8 404L461 407L465 408.5"/>
<path d="M478 407.6L477 411L479.5 414.5L482.8 407.6"/>
<path d="M494.8 403.4L494.5 407L498.4 413.6"/>
<path d="M502 402.8L500 407L498.4 413.6"/>
<path d="M498.4 413.6L502 416L506.8 416"/>
<path d="M496 420.8L500 421.5L504.4 420.8"/>
<path d="M492.5 426L498 427L503 425.5L506.8 425.6"/>
<path d="M488.8 431.6L494 432.5L500 431L504.5 431.5L509.2 430.4"/>
<path d="M504.5 431.5L506 434.5L510 435"/>
<path d="M502 438.8L504 441.5L504.4 444.8"/>
<path d="M507 448L509 451L511.8 452.5"/>
<path d="M503.2 454.4L503 458L502 460.4"/>
<path d="M506 462L506 467L509.8 466.4"/>
<path d="M503.2 473.6L504 478L508.2 481"/>
<path d="M429 484L427.8 491L426.2 499.4L430 506L433.5 511.5L436 516.2L434 521L431.8 526L434 533L436 540L436 547L435.3 554L431.5 556.5L428.3 558.2L428.4 563L429 568L430.2 575L431.8 582L433 589L434.6 596L434 604L435 612L434.6 620L434.6 626"/>
<path d="M429 484L431 487L433.2 489.6L437.5 490L441.6 489.6L444 487L445.6 488"/>
<path d="M403.8 486.8L408 489.5L412.2 492.4L414 495L415 498L420.5 499L426.2 499.4"/>
<path d="M398.2 496.6L403 498.5L408 500.8L412 499.6L415 498"/>
<path d="M394 505L401 507.4L408 509.2L415 509.4L422 509.2L426.5 509.6L430.4 510.6L433.5 511.5"/>
<path d="M392.6 512L395.4 516.2L401.5 517.8L408 519L414.5 520.2L420.6 521.8L426 523.2L431.8 524.6"/>
<path d="M395.4 520.4L399.5 523.5L403.8 526L408.5 528.4L413.6 530.2L417.5 526.5L420.6 521.8"/>
<path d="M392.6 530.2L397 531.6L401 532.8L407 532L413.6 530.2"/>
<path d="M394.6 525L399 527.5L403.8 526"/>
<path d="M388.4 542.8L393 544.5L398.4 546L400.4 550L401.6 554L399 557.5L395.2 560.4L392.6 561"/>
<path d="M401.6 554L408.5 553L416 552.4L422 552.6L428.3 554L435.3 554"/>
<path d="M388.4 555.4L393 553.5L398.4 550L400.4 550"/>
<path d="M386.5 545.5L391 548L393 553.5"/>
<path d="M428.3 558.2L424 564L419.2 570.8L418.2 575L417.8 579.2L412 582L405.2 584.8L401 582L395.5 581.2L389.8 580.6"/>
<path d="M422 569.4L424.2 576L426.2 582L425.6 589L424.8 596L425.6 604L425 612L425.8 620L425 629.2"/>
<path d="M417.8 579.2L418.8 588L418 597L419 606L418 615L418.4 622L417 630.8"/>
<path d="M412 582L411.5 591L412.2 600L411 609L411.8 617L410 624.4"/>
<path d="M405.2 584.8L404 593L404.8 602L403 611L402.6 619L401 626"/>
<path d="M401 582L398.5 589L398 597L396.5 605L396.8 614L395 622L393 634"/>
<path d="M389.8 586L394 589.5L396.4 595L392 600"/>
<path d="M390.4 592L393.6 594.5"/>
<path d="M389.8 606.8L392 612L390.5 619L387 625L385.5 632L385 645.2"/>
<path d="M386 608.8L386 615L382.5 621L381 627L381.8 634"/>
<path d="M381.8 610L380.5 616L377 622L375.6 629L375.4 637.2"/>
<path d="M375.4 612.4L374.5 618L371.5 624L369 630.8"/>
<path d="M369 619.6L367.5 624L364.5 629L364.2 634"/>
<path d="M365 623L362 627L360.5 632"/>
<path d="M392 600L396 604L396.5 605"/>
<path d="M496.2 506.4L490 510.5L483.6 514.8L477 519L471 523.2L468.5 527.5L466.8 531.6L462.5 536L458.4 540L456.6 544.5L455.6 548.4L453.5 551.5L451.4 554L443 554.2L435.3 554"/>
<path d="M466.8 531.6L472 529L478 527.4L485 527.6L492 528.8L494.4 528"/>
<path d="M471 523.2L477 520.5L483.6 519L489 520.5L493.4 523.2"/>
<path d="M477 519L483 515.6L489 514.5L495.5 517"/>
<path d="M483.6 514.8L489 512L496.2 512"/>
<path d="M478 527.4L484 531L489.5 533.5L496.2 533"/>
<path d="M458.4 540L465 541.2L472.4 541.4L479.5 540.4L486.4 540L491 541.4L494.8 542.8"/>
<path d="M472.4 541.4L478 536.5L484 534.5L489.5 533.5"/>
<path d="M462.5 536L468.5 537L474 535.5L478 536.5"/>
<path d="M479.5 540.4L484.5 545L490 547.5L495.5 548"/>
<path d="M455.6 548.4L462 549L469 550.5L476 553L483 556L490 556L497.6 554"/>
<path d="M451.4 554L457.5 555L464 556.8L471 559.4L478 562.4L484.5 565.4L490.6 568L492 568"/>
<path d="M476 553L481 558.5L487 561.5L494.5 562"/>
<path d="M451.4 554L453 561L454.5 568L456.6 576L458.6 584L460.6 592L462.6 600L463.4 611.6"/>
<path d="M455.5 554.8L458 561L461 568L464.4 576L467.6 584L470.6 592L472.5 598L474.6 600.4"/>
<path d="M460 555.8L464 562L468 569L472 576L476 583L479.4 590L479.4 594"/>
<path d="M464 556.8L469 562.6L474 568.6L479 574.6L483.4 580.6L486.4 583.4"/>
<path d="M471 559.4L476 565L481 570L485.5 574L487.8 576.4"/>
<path d="M447 554.2L448.4 562L449.5 570L451 578L452.6 586L454 594L455.6 602L456.4 610L455.4 618"/>
<path d="M443 554.2L443.6 562L444.2 570L445.4 578L446.4 586L447.4 594L448.4 602L449 613.2"/>
<path d="M439 554.2L439.4 563L440 572L440.6 581L441.4 590L442 599L443 608L444.2 616.4"/>
<path d="M436.5 575L437.4 584L438 593L438.6 602L438.4 610L437.8 618"/>
<path d="M452.6 586L456 592L459.5 598L462 604"/>
<path d="M458.6 584L462.5 589.5L466 595L468.2 600L468.2 606.8"/>
<path d="M446.4 586L449.6 592L452 599L452.6 607L452 615"/>
<path d="M441.4 590L444.4 597L446 604L446.4 611L447.4 622.8"/>
<path d="M429 568L431.6 574L432 582L430.6 590L431.4 598L430.4 606L430.6 614L429.8 624.4"/>
<path d="M635.5 131.5L645 131.5L661 131.5L658 135L656 140L657 144L652 147L651 151L650 154L651 158L650 162L651 166L652 169L653 173L648 174L644 173L640 175L635 175L632 172L626 174L624 178L622 182L618 186L615 184L612 181L607 181L603 183L600 186L598 191L597 195L599 189L602 184L606 180L609 178L609 174L607 170L603 168L599 166L597 162L598 157L598.5 154L599.5 159L602 162L606 161L610 160L613 157L614 153.5L617 153L622 153L625 151L628 150L629 147L632 145L633 141L632.5 136L634 133L635.5 131.5" stroke-width="1.5"/>
<path d="M636 159L632 154L629 150"/>
<path d="M636 159L638 150L639 142L639 135L639 131.5"/>
<path d="M636 159L642 156.5L648 154L650 154"/>
<path d="M636 159L642 163.5L648 168L652 169"/>
<path d="M636 159L634 166L634.5 170L635 175"/>
<path d="M636 159L631 161.5L626 164L623 166L620 168L617 166L615 164L613.5 162.5L612 161"/>
<path d="M639 142L642.5 140.5L646 139L649 139L652 139L656 140"/>
<path d="M639 142L636.5 141.5L634 141"/>
<path d="M639 154L643.5 154L648 154"/>
<path d="M642 131.5L642.5 134L643 137L646 139"/>
<path d="M652 131.5L653 135L652 139"/>
<path d="M620 168L621 171L622 174L624 178"/>
<path d="M626 164L629 168L632 172"/>
<path d="M615 164L614 166.5L613 169L611 171.5L609 174"/>
<path d="M620 168L619 171L618 174L618.5 177L619 180L618.5 183L618 186"/>
<path d="M613 169L615.5 171.5L618 174"/>
<path d="M609 178L612 179L615 180L619 180"/>
<path d="M618 153L618 156.5L618 160L615 164"/>
<path d="M622 153L624 158.5L626 164"/>
<path d="M644 168L644 173"/>
<path d="M640 164L644 168L648 168"/>
<path d="M648 154L649.5 156L651 158"/>
<path d="M642 162L646 162L650 162"/>
<path d="M646 139L647 144L648 149L648 154"/>
<path d="M652 139L652 143L652 147"/>
<path d="M629 150L632 148.5L634 146L634 141"/>
<path d="M606 161L606.5 165L607 170"/>
<path d="M603 168L605 172L606 176L606 180"/>
<path d="M603 183L605 184L607 181"/>
<path d="M656 133L655 137"/>
<path d="M647 131.5L647.5 135L649 139"/>
<path d="M610 160L611 164L613 169"/>
<path d="M602 162L602.5 165L603 168"/>
<path d="M612.5 211L612.8 216.5L614.5 214L616.5 212L616.5 218L611 218.3L612.5 211"/>
<path d="M602.5 222L605 221L607 223.5L607.5 228L605.5 229.5L603.5 227L602.5 222"/>
<path d="M524.8 324.3L524.8 316.3L526.3 314.2L528 316.3L528 324.3L524.8 324.3"/>
<path d="M526.3 316L526.3 324"/>
<path d="M529 319.5L531 319.5"/>
<path d="M551 311.5L553 314.5L555.5 317L560.5 315.5L556 319.5L555.5 321.5L553 319.5L549.5 318.5L551.5 316L551 311.5"/>
<path d="M519 333L522.5 327.5L529 326L533.5 328.5L531 333L527 338.5L524.5 339.5L523 336L519 333"/>
<path d="M521 331L524 333L529 328"/>
<path d="M524 333L526 337"/>
<path d="M525.5 346L528 342.5L533 341.5L537.5 343.5L538 347.5L535 350L531 351.5L527 350L525.5 346"/>
<path d="M528 342.5L530 347L535 350"/>
<path d="M530 347L537.5 343.5"/>
</g>
<g fill="#000">
<circle cx="511.6" cy="509.2" r="1.6"/>
<circle cx="508.5" cy="508.4" r="1.6"/>
<circle cx="505" cy="508.6" r="1.6"/>
<circle cx="501.5" cy="508.4" r="1.6"/>
<circle cx="498.4" cy="509" r="1.6"/>
<circle cx="497.2" cy="551" r="1.6"/>
<circle cx="496.8" cy="555" r="1.6"/>
<circle cx="494.4" cy="563" r="1.6"/>
<circle cx="491.5" cy="570" r="1.6"/>
<circle cx="488" cy="577" r="1.6"/>
<circle cx="486" cy="584" r="1.6"/>
<circle cx="481" cy="591" r="1.6"/>
<circle cx="476" cy="598.5" r="1.6"/>
<circle cx="471.5" cy="604" r="1.6"/>
<circle cx="466" cy="608.8" r="1.6"/>
<circle cx="460.5" cy="611" r="1.6"/>
<circle cx="457" cy="612.5" r="1.6"/>
<circle cx="455.8" cy="616" r="1.6"/>
<circle cx="449.4" cy="615.5" r="1.6"/>
<circle cx="447.4" cy="620.5" r="1.6"/>
<circle cx="444" cy="618" r="1.6"/>
<circle cx="438" cy="619.5" r="1.6"/>
<circle cx="434.8" cy="624" r="1.6"/>
<circle cx="429.6" cy="627" r="1.6"/>
<circle cx="427.6" cy="632" r="1.6"/>
<circle cx="427.4" cy="638" r="1.6"/>
<circle cx="425.4" cy="630" r="1.6"/>
<circle cx="420.4" cy="626.5" r="1.6"/>
<circle cx="417.4" cy="630" r="1.6"/>
<circle cx="414.4" cy="637" r="1.6"/>
<circle cx="413.8" cy="642" r="1.6"/>
<circle cx="412.4" cy="632" r="1.6"/>
<circle cx="409.2" cy="627" r="1.6"/>
<circle cx="404.6" cy="633.5" r="1.6"/>
<circle cx="401.4" cy="628.5" r="1.6"/>
<circle cx="398" cy="635.5" r="1.6"/>
<circle cx="393.2" cy="636" r="1.6"/>
<circle cx="391.6" cy="641.5" r="1.6"/>
<circle cx="388.4" cy="643" r="1.6"/>
<circle cx="385.2" cy="643.5" r="1.6"/>
<circle cx="385" cy="639" r="1.6"/>
<circle cx="382" cy="636" r="1.6"/>
<circle cx="379.6" cy="639" r="1.6"/>
<circle cx="376" cy="637" r="1.6"/>
<circle cx="372" cy="634.5" r="1.6"/>
<circle cx="369.2" cy="632.4" r="1.6"/>
<circle cx="364.4" cy="633" r="1.6"/>
<circle cx="361" cy="631.6" r="1.6"/>
<circle cx="357.8" cy="630.4" r="1.6"/>
<circle cx="353.4" cy="630.8" r="1.6"/>
<circle cx="508.4" cy="409" r="1.1"/>
<circle cx="509" cy="412.5" r="1.1"/>
<circle cx="507" cy="414.8" r="1.1"/>
<circle cx="509.8" cy="427" r="1.1"/>
<circle cx="511" cy="441" r="1.1"/>
<circle cx="511.4" cy="449" r="1.1"/>
<circle cx="510.4" cy="462" r="1.1"/>
<circle cx="508" cy="482" r="1.1"/>
<circle cx="392.8" cy="512" r="1.1"/>
<circle cx="389.2" cy="582.5" r="1.1"/>
<circle cx="390" cy="591.4" r="1.1"/>
<circle cx="388.6" cy="576.6" r="1.1"/>
<circle cx="384.6" cy="548.4" r="1.1"/>
<circle cx="395.2" cy="521" r="1.1"/>
<circle cx="408.4" cy="467" r="1.1"/>
<circle cx="506.2" cy="504" r="1.1"/>
<circle cx="519.3" cy="403.8" r="1.8"/>
<circle cx="526.4" cy="410.4" r="1.6"/>
<circle cx="526.5" cy="412" r="1.5"/>
<circle cx="510" cy="401.6" r="1.3"/>
<circle cx="511" cy="400" r="0.9"/>
<circle cx="509.4" cy="403.4" r="1"/>
<circle cx="556" cy="427" r="1.2"/>
<circle cx="659" cy="133.5" r="1.2"/>
<circle cx="657" cy="137.5" r="1.2"/>
<circle cx="656.5" cy="141" r="1.2"/>
<circle cx="655" cy="143.5" r="1.2"/>
<circle cx="653.5" cy="145.5" r="1.2"/>
<circle cx="651.5" cy="149" r="1.2"/>
<circle cx="650.5" cy="152.5" r="1.2"/>
<circle cx="651" cy="160" r="1.2"/>
<circle cx="650.5" cy="164" r="1.2"/>
<circle cx="652" cy="171" r="1.2"/>
<circle cx="650" cy="173.5" r="1.2"/>
<circle cx="646" cy="173.5" r="1.2"/>
<circle cx="642" cy="174" r="1.2"/>
<circle cx="637.5" cy="175" r="1.2"/>
<circle cx="633" cy="173" r="1.2"/>
<circle cx="628" cy="173.5" r="1.2"/>
<circle cx="624.5" cy="176.5" r="1.2"/>
<circle cx="622.5" cy="181" r="1.2"/>
<circle cx="619.5" cy="185" r="1.2"/>
<circle cx="616" cy="185" r="1.2"/>
<circle cx="613.5" cy="182.5" r="1.2"/>
<circle cx="609.5" cy="181" r="1.2"/>
<circle cx="605" cy="182" r="1.2"/>
<circle cx="601.5" cy="184.5" r="1.2"/>
<circle cx="599" cy="188.5" r="1.2"/>
<circle cx="597.5" cy="193" r="1.2"/>
<circle cx="597.5" cy="195" r="1.2"/>
<circle cx="598.5" cy="191" r="1.2"/>
<circle cx="598.2" cy="156" r="1.2"/>
<circle cx="597.5" cy="160" r="1.2"/>
<circle cx="598.5" cy="164" r="1.2"/>
<circle cx="601" cy="167" r="1.2"/>
<circle cx="604.5" cy="169" r="1.2"/>
<circle cx="599.5" cy="162" r="1.2"/>
<circle cx="601" cy="159" r="1.2"/>
<circle cx="603.5" cy="163" r="1.2"/>
<circle cx="607.5" cy="172" r="1.2"/>
<circle cx="608.5" cy="176" r="1.2"/>
<circle cx="614" cy="155" r="1.2"/>
<circle cx="619.5" cy="153" r="1.2"/>
<circle cx="625" cy="151.5" r="1.2"/>
<circle cx="631" cy="146" r="1.2"/>
<circle cx="633" cy="143" r="1.2"/>
<circle cx="654.5" cy="141.5" r="1.5"/>
<circle cx="655.5" cy="144" r="1.5"/>
<circle cx="653" cy="143" r="1.5"/>
<circle cx="600" cy="165" r="1.5"/>
<circle cx="602" cy="165.5" r="1.5"/>
<circle cx="600.5" cy="168" r="1.5"/>
<circle cx="604" cy="166" r="1.5"/>
<circle cx="606" cy="183" r="1.5"/>
<circle cx="610" cy="179.5" r="1.5"/>
<circle cx="604" cy="180.5" r="1.5"/>
<circle cx="617" cy="183.5" r="1.5"/>
<circle cx="620" cy="182.5" r="1.5"/>
<circle cx="601.7" cy="144.7" r="1.9"/>
<circle cx="617.5" cy="201" r="2.3"/>
<circle cx="610.7" cy="197" r="1.4"/>
<circle cx="612" cy="196" r="0.9"/>
<circle cx="613.5" cy="216.6" r="1.9"/>
<circle cx="615.5" cy="216.5" r="1.5"/>
<circle cx="604.5" cy="224" r="1.4"/>
<circle cx="606" cy="227" r="1.4"/>
<circle cx="528.6" cy="304.6" r="2.5"/>
<circle cx="532.5" cy="318.3" r="2.2"/>
<circle cx="532.8" cy="316" r="1.4"/>
<circle cx="531" cy="321" r="1.2"/>
<circle cx="529.5" cy="319.5" r="1"/>
<circle cx="553.5" cy="317.3" r="2"/>
<circle cx="551.8" cy="314" r="1.1"/>
<circle cx="558.5" cy="316.3" r="1.1"/>
<circle cx="520" cy="332.5" r="1.5"/>
<circle cx="531.5" cy="331" r="1.7"/>
<circle cx="526" cy="337.5" r="1.5"/>
<circle cx="529" cy="334.5" r="1.2"/>
<circle cx="527" cy="347.5" r="1.8"/>
<circle cx="531.5" cy="349.5" r="1.6"/>
<circle cx="536.5" cy="346.5" r="1.4"/>
<circle cx="531" cy="344" r="1.1"/>
<circle cx="363.5" cy="647.5" r="1.6"/>
</g>
</g>
<rect x="211.4" y="71.3" width="576.1" height="658.2" fill="none" stroke="#000" stroke-width="1.9"/>
<path d="M232.4 729.5 v4.5M272.8 729.5 v4.5M313.2 729.5 v4.5M353.6 729.5 v4.5M393.9 729.5 v4.5M434.3 729.5 v4.5M474.7 729.5 v4.5M515.1 729.5 v4.5M555.5 729.5 v4.5M595.9 729.5 v4.5M636.2 729.5 v4.5M676.6 729.5 v4.5M717 729.5 v4.5M757.4 729.5 v4.5M211.4 81.4 h-4.5M211.4 131.6 h-4.5M211.4 181.8 h-4.5M211.4 232 h-4.5M211.4 282.2 h-4.5M211.4 332.4 h-4.5M211.4 382.6 h-4.5M211.4 432.8 h-4.5M211.4 483 h-4.5M211.4 533.2 h-4.5M211.4 583.4 h-4.5M211.4 633.6 h-4.5M211.4 683.8 h-4.5" stroke="#000" stroke-width="1.2" fill="none"/>
<g class="ax" text-anchor="middle" opacity="0.995">
<text transform="translate(232.4 747.9) scale(1 1.15)">61.95W</text>
<text transform="translate(272.8 747.9) scale(1 1.15)">61.9W</text>
<text transform="translate(313.2 747.9) scale(1 1.15)">61.85W</text>
<text transform="translate(353.6 747.9) scale(1 1.15)">61.8W</text>
<text transform="translate(393.9 747.9) scale(1 1.15)">61.75W</text>
<text transform="translate(434.3 747.9) scale(1 1.15)">61.7W</text>
<text transform="translate(474.7 747.9) scale(1 1.15)">61.65W</text>
<text transform="translate(515.1 747.9) scale(1 1.15)">61.6W</text>
<text transform="translate(555.5 747.9) scale(1 1.15)">61.55W</text>
<text transform="translate(595.9 747.9) scale(1 1.15)">61.5W</text>
<text transform="translate(636.2 747.9) scale(1 1.15)">61.45W</text>
<text transform="translate(676.6 747.9) scale(1 1.15)">61.4W</text>
<text transform="translate(717 747.9) scale(1 1.15)">61.35W</text>
<text transform="translate(757.4 747.9) scale(1 1.15)">61.3W</text>
</g>
<g class="ax" text-anchor="end" opacity="0.995">
<text transform="translate(203.8 86.8) scale(1 1.17)">12.55N</text>
<text transform="translate(203.8 137) scale(1 1.17)">12.5N</text>
<text transform="translate(203.8 187.2) scale(1 1.17)">12.45N</text>
<text transform="translate(203.8 237.4) scale(1 1.17)">12.4N</text>
<text transform="translate(203.8 287.6) scale(1 1.17)">12.35N</text>
<text transform="translate(203.8 337.8) scale(1 1.17)">12.3N</text>
<text transform="translate(203.8 388) scale(1 1.17)">12.25N</text>
<text transform="translate(203.8 438.2) scale(1 1.17)">12.2N</text>
<text transform="translate(203.8 488.4) scale(1 1.17)">12.15N</text>
<text transform="translate(203.8 538.6) scale(1 1.17)">12.1N</text>
<text transform="translate(203.8 588.8) scale(1 1.17)">12.05N</text>
<text transform="translate(203.8 639) scale(1 1.17)">12N</text>
<text transform="translate(203.8 689.2) scale(1 1.17)">11.95N</text>
</g>
<g opacity="0.995">
<text class="t1" transform="translate(172.4 27.6) scale(1 1.1)" style="letter-spacing:0.23px">Caribbean</text>
<text class="t1" transform="translate(309.2 27.6) scale(1 1.1)" style="letter-spacing:2.05px">Institute</text>
<text class="t1" transform="translate(429.2 27.6) scale(0.9310 1.1)">for</text>
<text class="t1" transform="translate(474.2 27.6) scale(1 1.1)" style="letter-spacing:0.16px">Meteorology</text>
<text class="t1" transform="translate(636.7 27.6) scale(0.9374 1.1)">and</text>
<text class="t1" transform="translate(694.2 27.6) scale(1 1.1)" style="letter-spacing:0.34px">Hydrology</text>
<text class="t2" transform="translate(73.2 55) scale(1 1.09)" style="letter-spacing:0.70px">Aggregated</text>
<text class="t2" transform="translate(247.2 55) scale(1 1.09)" style="letter-spacing:2.33px">precipitation(mm)</text>
<text class="t2" transform="translate(521.7 55) scale(0.8615 1.09)">GRN</text>
<text class="t2" transform="translate(594.2 55) scale(1 1.09)" style="letter-spacing:0.43px">Valid</text>
<text class="t2" transform="translate(675.2 55) scale(1 1.09)" style="letter-spacing:0.93px">10Z</text>
<text class="t2" transform="translate(746.7 55) scale(1 1.09)" style="letter-spacing:4.51px">27/10</text>
<text class="t2" transform="translate(856.7 55) scale(1 1.09)" style="letter-spacing:2.02px">2014</text>
</g>
<g stroke="#000" stroke-width="1">
<path d="M885.7 122.8L894.5 80L903.4 122.8Z" fill="rgb(240,0,130)"/>
<rect x="885.7" y="122.8" width="17.7" height="42.7" fill="rgb(250,60,60)"/>
<rect x="885.7" y="165.5" width="17.7" height="42.7" fill="rgb(240,130,40)"/>
<rect x="885.7" y="208.2" width="17.7" height="42.7" fill="rgb(230,175,45)"/>
<rect x="885.7" y="250.9" width="17.7" height="42.7" fill="rgb(230,220,50)"/>
<rect x="885.7" y="293.7" width="17.7" height="42.7" fill="rgb(160,230,50)"/>
<rect x="885.7" y="336.4" width="17.7" height="42.7" fill="rgb(0,220,0)"/>
<rect x="885.7" y="379.1" width="17.7" height="42.7" fill="rgb(0,210,140)"/>
<rect x="885.7" y="421.8" width="17.7" height="42.7" fill="rgb(0,200,200)"/>
<rect x="885.7" y="464.5" width="17.7" height="42.7" fill="rgb(0,160,255)"/>
<rect x="885.7" y="507.2" width="17.7" height="42.7" fill="rgb(30,60,255)"/>
<rect x="885.7" y="550" width="17.7" height="42.7" fill="rgb(130,0,220)"/>
<rect x="885.7" y="592.7" width="17.7" height="42.7" fill="rgb(160,0,200)"/>
<rect x="885.7" y="635.4" width="17.7" height="42.7" fill="rgb(170,170,170)"/>
<path d="M885.7 678.1L894.5 720.5L903.4 678.1Z" fill="#fff"/>
</g>
<g class="lg" opacity="0.995">
<text transform="translate(909 129.7) scale(1 1.03)">250</text>
<text transform="translate(909 172.4) scale(1 1.03)">220</text>
<text transform="translate(909 215.1) scale(1 1.03)">180</text>
<text transform="translate(909 257.8) scale(1 1.03)">140</text>
<text transform="translate(909 300.6) scale(1 1.03)">110</text>
<text transform="translate(909 343.3) scale(1 1.03)">80</text>
<text transform="translate(909 386) scale(1 1.03)">50</text>
<text transform="translate(909 428.7) scale(1 1.03)">30</text>
<text transform="translate(909 471.4) scale(1 1.03)">25</text>
<text transform="translate(909 514.1) scale(1 1.03)">20</text>
<text transform="translate(909 556.9) scale(1 1.03)">15</text>
<text transform="translate(909 599.6) scale(1 1.03)">10</text>
<text transform="translate(909 642.3) scale(1 1.03)">5</text>
<text transform="translate(909 685) scale(1 1.03)">1</text>
</g>
</svg></body></html>
